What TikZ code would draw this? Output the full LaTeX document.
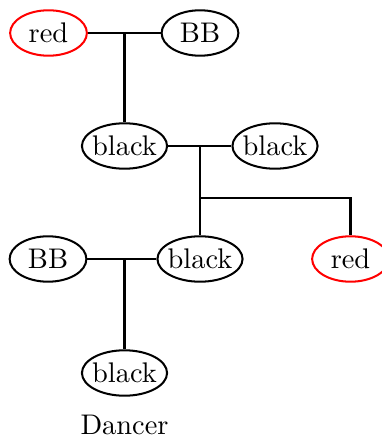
\documentclass[tikz,border=0pt]{standalone}
\usetikzlibrary{shapes.geometric}
\begin{document}
\begin{tikzpicture}[x=0.37pt,y=-0.37pt,
  every node/.style={font=\fontsize{10.5}{12}\selectfont},
  member/.style={ellipse, draw, line width=0.75pt, inner xsep=-2pt, inner ysep=0pt, minimum height=16.8pt},
  wide/.style={member, minimum width=31.5pt},
  narrow/.style={member, minimum width=28.4pt},
  redmember/.style={narrow, draw=red},
  link/.style={line width=0.75pt}]
\useasboundingbox (0,0) rectangle (381,438);

% individuals
\node[redmember] (r1) at (48.5,33) {red};
\node[narrow]    (b1) at (200,33) {BB};
\node[wide]      (k1) at (124.5,146) {black};
\node[wide]      (k2) at (275,146) {black};
\node[narrow]    (b2) at (48,259) {BB};
\node[wide]      (k3) at (200,259) {black};
\node[redmember] (r2) at (350.5,259) {red};
\node[wide]      (k4) at (124.5,373) {black};
\node[anchor=base] (title) at (124.5,434) {Dancer};

% junction points of the mating lines
\coordinate (j1) at (124.5,33);
\coordinate (j2) at (200,146);
\coordinate (j3) at (200,198);
\coordinate (j4) at (124.5,259);

% couples and their offspring
\draw[link] (r1.east) -- (b1.west);
\draw[link] (j1) -- (k1.north);
\draw[link] (k1.east) -- (k2.west);
\draw[link] (j2) -- (k3.north);
\draw[link] (j3) -| (r2.north);
\draw[link] (b2.east) -- (k3.west);
\draw[link] (j4) -- (k4.north);
\end{tikzpicture}
\end{document}
